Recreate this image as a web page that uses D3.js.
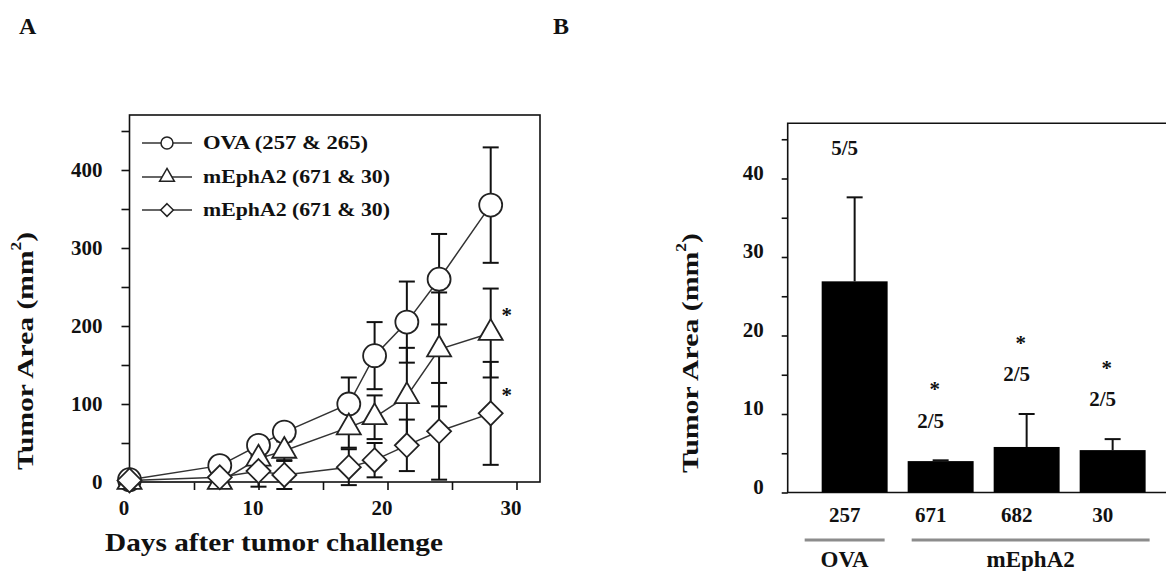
<!DOCTYPE html>
<html>
<head>
<meta charset="utf-8">
<script src="https://cdn.jsdelivr.net/npm/d3@7"></script>
<style>
  body { margin: 0; background: #fff; }
  svg text { font-family: "Liberation Serif", "Times New Roman", serif; font-weight: bold; fill: #111; }
</style>
</head>
<body>
<svg id="chart" width="1166" height="571"></svg>
<script>
// panel A: tumour growth curves
var days = [0, 7, 10, 12, 17, 19, 21.5, 24, 28];
var ovaMean = [3, 21, 47, 64, 100, 162, 205, 260, 355];
var ovaErr = [2, 5, 8, 10, 34, 43, 52, 58, 74];
var triMean = [0, 0, 30, 40, 70, 83, 110, 170, 191];
var triErr = [2, 3, 10, 12, 26, 28, 62, 73, 57];
var diaMean = [2, 6, 14, 9, 19, 28, 47, 65, 88];
var diaErr = [2, 4, 20, 18, 23, 22, 33, 62, 66];
var legendLabels = ["OVA (257 & 265)", "mEphA2 (671 & 30)", "mEphA2 (671 & 30)"];
var starredSeries = [1, 2];

// panel B: tumour area per epitope
var bCats = ["257", "671", "682", "30"];
var bMeans = [26.9, 4.0, 5.8, 5.4];
var bErr = [10.7, 0.1, 4.2, 1.4];
var bRatio = ["5/5", "2/5", "2/5", "2/5"];
var bStar = [false, true, true, true];
var bGroups = ["OVA", "mEphA2"];
var bGroupCats = [["257"], ["671", "682", "30"]];

var svg = d3.select("#chart");
var ink = "#111";

// diamond drawn as a square turned 45 degrees
var diamond = {
  draw: function(ctx, size) {
    var r = Math.sqrt(size / 2);
    ctx.moveTo(0, -r); ctx.lineTo(r, 0); ctx.lineTo(0, r); ctx.lineTo(-r, 0); ctx.closePath();
  }
};

// ---------- panel A ----------
var A = {left: 129.5, right: 540, top: 115, bottom: 482};
var x = d3.scaleLinear().domain([0, 30]).range([A.left, A.left + 387]);
var y = d3.scaleLinear().domain([0, 400]).range([A.bottom, A.bottom - 312]);

svg.append("text").attr("x", 19).attr("y", 34).attr("font-size", 24).text("A");
svg.append("text").attr("x", 553).attr("y", 34).attr("font-size", 24).text("B");

// frame
svg.append("rect")
  .attr("x", A.left).attr("y", A.top)
  .attr("width", A.right - A.left).attr("height", A.bottom - A.top)
  .attr("fill", "none").attr("stroke", ink).attr("stroke-width", 1.6);

var yAxisA = svg.append("g")
  .attr("transform", `translate(${A.left},0)`)
  .call(d3.axisLeft(y).tickValues(d3.range(0, 451, 50)).tickSize(8).tickPadding(19)
    .tickFormat(d => d % 100 === 0 ? d : ""));
var xAxisA = svg.append("g")
  .attr("transform", `translate(0,${A.bottom})`)
  .call(d3.axisBottom(x).tickValues(d3.range(0, 31, 5)).tickSize(8).tickPadding(10)
    .tickFormat(d => d % 10 === 0 ? d : ""));
[yAxisA, xAxisA].forEach(g => {
  g.select(".domain").remove();
  g.selectAll("line").attr("stroke", ink).attr("stroke-width", 1.6);
  g.selectAll("text").attr("font-size", 21).attr("fill", ink);
});
xAxisA.selectAll("text").attr("dx", -6);

svg.append("text")
  .attr("transform", "translate(25,351) rotate(-90)")
  .attr("text-anchor", "middle").attr("dominant-baseline", "central")
  .attr("font-size", 24).attr("textLength", 238).attr("lengthAdjust", "spacingAndGlyphs")
  .html("Tumor Area (mm<tspan dy='-9' font-size='14'>2</tspan><tspan dy='9'>)</tspan>");

svg.append("text")
  .attr("x", 274).attr("y", 551)
  .attr("text-anchor", "middle")
  .attr("font-size", 25).attr("textLength", 338).attr("lengthAdjust", "spacingAndGlyphs")
  .text("Days after tumor challenge");

var series = [
  {mean: ovaMean, err: ovaErr, sym: d3.symbolCircle, size: 415, legSize: 113},
  {mean: triMean, err: triErr, sym: d3.symbolTriangle, size: 250, legSize: 95},
  {mean: diaMean, err: diaErr, sym: diamond, size: 288, legSize: 80}
];

var line = d3.line().x(d => x(d.day)).y(d => y(d.v));

series.forEach(s => {
  s.pts = days.map((d, i) => ({day: d, v: s.mean[i], e: s.err[i]}));
  svg.append("path")
    .attr("d", line(s.pts))
    .attr("fill", "none").attr("stroke", "#333").attr("stroke-width", 1.5);
});

series.forEach(s => {
  var eb = svg.append("g").attr("stroke", ink).attr("stroke-width", 2);
  s.pts.forEach(p => {
    eb.append("line").attr("x1", x(p.day)).attr("x2", x(p.day))
      .attr("y1", y(p.v + p.e)).attr("y2", y(p.v - p.e));
    [p.v + p.e, p.v - p.e].forEach(v => {
      eb.append("line").attr("x1", x(p.day) - 8).attr("x2", x(p.day) + 8)
        .attr("y1", y(v)).attr("y2", y(v));
    });
  });
});

series.forEach(s => {
  svg.append("g").selectAll("path")
    .data(s.pts).enter().append("path")
    .attr("transform", d => `translate(${x(d.day)},${y(d.v)})`)
    .attr("d", d3.symbol().type(s.sym).size(s.size))
    .attr("fill", "#fff").attr("stroke", "#222").attr("stroke-width", 1.8);
});

starredSeries.forEach(si => {
  var last = series[si].pts[series[si].pts.length - 1];
  svg.append("text")
    .attr("x", x(last.day) + 16).attr("y", y(last.v) - 20 + 9)
    .attr("text-anchor", "middle").attr("font-size", 21).text("*");
});

// legend
var legRows = [143, 177, 210];
series.forEach((s, i) => {
  var g = svg.append("g").attr("transform", `translate(0,${legRows[i]})`);
  g.append("line").attr("x1", 142).attr("x2", 192).attr("stroke", "#333").attr("stroke-width", 1.5);
  g.append("path").attr("transform", "translate(167,0)")
    .attr("d", d3.symbol().type(s.sym).size(s.legSize))
    .attr("fill", "#fff").attr("stroke", "#222").attr("stroke-width", 1.5);
  g.append("text").attr("x", 203).attr("dy", "0.35em")
    .attr("font-size", 18)
    .attr("textLength", i === 0 ? 165 : 187).attr("lengthAdjust", "spacingAndGlyphs")
    .text(legendLabels[i]);
});

// ---------- panel B ----------
var B = {left: 787.7, right: 1180, top: 123.3, bottom: 492.5};
var xb = d3.scaleBand().domain(bCats).range([B.left, 1179.6]).paddingInner(0.233).paddingOuter(0.395);
var yb = d3.scaleLinear().domain([0, 40]).range([B.bottom, B.bottom - 314]);

svg.append("path")
  .attr("d", `M${B.right},${B.top}H${B.left}V${B.bottom}H${B.right}`)
  .attr("fill", "none").attr("stroke", ink).attr("stroke-width", 1.6);

var yAxisB = svg.append("g")
  .attr("transform", `translate(${B.left},0)`)
  .call(d3.axisLeft(yb).tickValues(d3.range(0, 46, 5)).tickSize(6).tickPadding(18)
    .tickFormat(d => d % 10 === 0 ? d : ""));
yAxisB.select(".domain").remove();
yAxisB.selectAll("line").attr("stroke", ink).attr("stroke-width", 1.6);
yAxisB.selectAll("text").attr("font-size", 21).attr("fill", ink).attr("y", -6);

svg.append("text")
  .attr("transform", "translate(690,353) rotate(-90)")
  .attr("text-anchor", "middle").attr("dominant-baseline", "central")
  .attr("font-size", 24).attr("textLength", 240).attr("lengthAdjust", "spacingAndGlyphs")
  .html("Tumor Area (mm<tspan dy='-9' font-size='14'>2</tspan><tspan dy='9'>)</tspan>");

var bw = xb.bandwidth();
svg.append("g").selectAll("rect")
  .data(bCats).enter().append("rect")
  .attr("x", d => xb(d))
  .attr("y", (d, i) => yb(bMeans[i]))
  .attr("width", bw)
  .attr("height", (d, i) => yb(0) - yb(bMeans[i]))
  .attr("fill", "#000");

var ebB = svg.append("g").attr("stroke", ink).attr("stroke-width", 2);
bCats.forEach((c, i) => {
  var cx = xb(c) + bw / 2;
  ebB.append("line").attr("x1", cx).attr("x2", cx)
    .attr("y1", yb(bMeans[i])).attr("y2", yb(bMeans[i] + bErr[i]));
  ebB.append("line").attr("x1", cx - 8).attr("x2", cx + 8)
    .attr("y1", yb(bMeans[i] + bErr[i])).attr("y2", yb(bMeans[i] + bErr[i]));

  // the first ratio label sits higher above its error cap
  var ly = yb(bMeans[i] + bErr[i]) - (i === 0 ? 50 : 40);
  svg.append("text").attr("x", cx - 10).attr("y", ly).attr("dy", "0.35em")
    .attr("text-anchor", "middle").attr("font-size", 21).text(bRatio[i]);
  if (bStar[i]) {
    svg.append("text").attr("x", cx - 6).attr("y", ly - 33 + 9)
      .attr("text-anchor", "middle").attr("font-size", 21).text("*");
  }
  svg.append("text").attr("x", cx - 10).attr("y", 515).attr("dy", "0.35em")
    .attr("text-anchor", "middle").attr("font-size", 21).text(c);
});

bGroups.forEach((gname, i) => {
  var cats = bGroupCats[i];
  var x0 = xb(cats[0]) + (i === 0 ? -17 : 4);
  var x1 = xb(cats[cats.length - 1]) + bw + (i === 0 ? -3 : 4);
  svg.append("line").attr("x1", x0).attr("x2", x1).attr("y1", 540).attr("y2", 540)
    .attr("stroke", "#8c8c8c").attr("stroke-width", 3);
  svg.append("text").attr("x", (x0 + x1) / 2).attr("y", 567)
    .attr("text-anchor", "middle").attr("font-size", 23).text(gname);
});
</script>
</body>
</html>
